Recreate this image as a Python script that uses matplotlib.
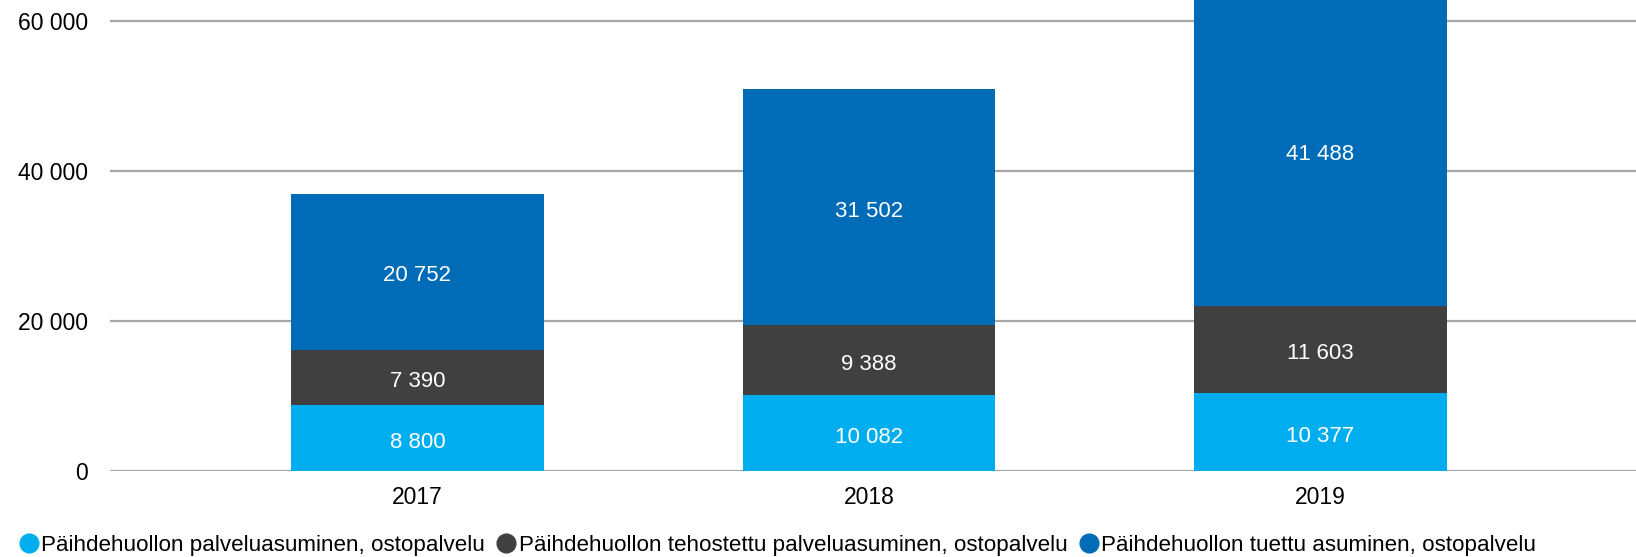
import matplotlib
matplotlib.use("Agg")
import matplotlib.pyplot as plt
from matplotlib.lines import Line2D
import numpy as np

plt.rcParams['font.family'] = ['Liberation Sans', 'DejaVu Sans']

# vuosittaiset hoitopäivät, ostopalvelut
years = ["2017", "2018", "2019"]
palveluasuminen = [8800, 10082, 10377]
tehostettu = [7390, 9388, 11603]
tuettu = [20752, 31502, 41488]

series = [palveluasuminen, tehostettu, tuettu]
names = ["Päihdehuollon palveluasuminen, ostopalvelu",
         "Päihdehuollon tehostettu palveluasuminen, ostopalvelu",
         "Päihdehuollon tuettu asuminen, ostopalvelu"]
colors = ["#00AEEF", "#404040", "#006CB7"]

def fmt(v):
    return f"{v:,.0f}".replace(",", " ")

fig = plt.figure(figsize=(16.36, 5.57), dpi=100)
ax = fig.add_axes([110 / 1636, 1 - 471 / 557, 1 - 110 / 1636, 471 / 557])

x = np.arange(len(years))
bottom = np.zeros(len(years))
for vals, col in zip(series, colors):
    vals = np.array(vals)
    ax.bar(x, vals, 0.56, bottom=bottom, color=col, zorder=2)
    for xi, b, v in zip(x, bottom, vals):
        ax.annotate(fmt(v), (xi, b + v / 2), xytext=(0, -3), textcoords="offset points",
                    ha="center", va="center", color="white", fontsize=16, zorder=3)
    bottom += vals

ax.set_ylim(0, 62800)
ax.set_xlim(-0.681, 2.699)
ax.set_yticks([0, 20000, 40000, 60000])
ax.set_yticklabels([fmt(v) for v in [0, 20000, 40000, 60000]])
ax.set_xticks(x)
ax.set_xticklabels(years)
ax.yaxis.grid(True, color="#A6A6A6", linewidth=1.6, zorder=0)
ax.set_axisbelow(True)
for s in ax.spines.values():
    s.set_visible(False)
ax.tick_params(axis="y", length=0, pad=16, labelsize=16.5, colors="black")
ax.tick_params(axis="x", length=0, pad=11, labelsize=16.5, colors="black")

handles = [Line2D([], [], linestyle="none", marker="o", markersize=13.5,
                  markerfacecolor=c, markeredgecolor=c) for c in colors]
fig.legend(handles, names, loc="center left", bbox_to_anchor=(18 / 1636, 1 - 545 / 557),
           ncol=3, frameon=False, fontsize=16.1, handlelength=1.0, handletextpad=0.05,
           columnspacing=0.45, borderpad=0, borderaxespad=0)

fig.savefig("out.png", dpi=100)
